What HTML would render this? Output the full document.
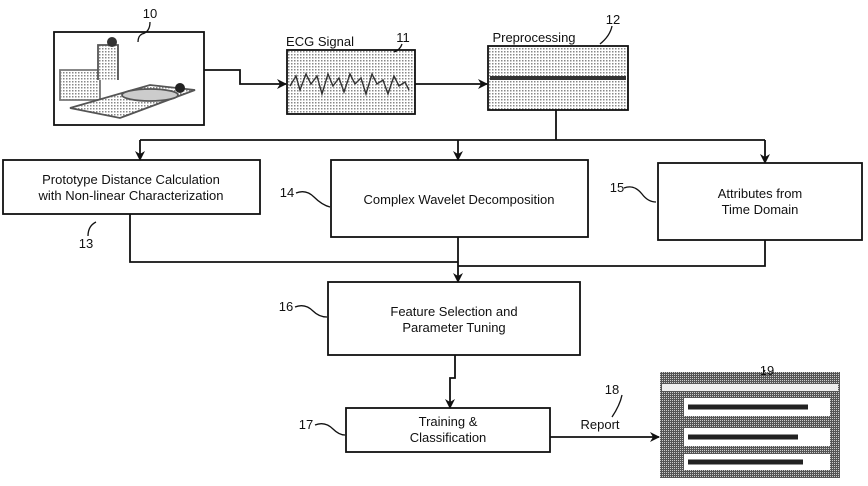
<!DOCTYPE html>
<html><head><meta charset="utf-8"><style>
html,body{margin:0;padding:0;background:#fff;width:868px;height:486px;overflow:hidden}
svg{display:block;font-family:"Liberation Sans",Arial,sans-serif}
</style></head><body>
<svg width="868" height="486" viewBox="0 0 868 486" xmlns="http://www.w3.org/2000/svg">
<defs>
<marker id="a" markerWidth="10" markerHeight="10" refX="9" refY="5" orient="auto" markerUnits="userSpaceOnUse"><path d="M0,0 L10,5 L0,10 L3,5 Z" fill="#111"/></marker>
<pattern id="dots" width="3" height="3" patternUnits="userSpaceOnUse"><rect width="3" height="3" fill="#fff"/><rect width="1.5" height="1.5" fill="#888"/></pattern>
<pattern id="dk" width="2" height="2" patternUnits="userSpaceOnUse"><rect width="2" height="2" fill="#555"/><rect width="1" height="1" fill="#ccc"/></pattern>
</defs>
<g stroke="#111" stroke-width="1.8" fill="none">
<rect x="54" y="32" width="150" height="93" fill="#fff"/>
<path d="M60,70 h40 v30 h-40z" fill="url(#dots)" stroke="#777"/>
<path d="M70,108 L150,85 L195,90 L120,118 Z" fill="url(#dots)" stroke="#555"/>
<path d="M98,80 v-35 h20 v35" fill="url(#dots)" stroke="#555"/>
<circle cx="112" cy="42" r="5" fill="#333" stroke="none"/>
<ellipse cx="150" cy="95" rx="28" ry="6" fill="#ccc" stroke="#555"/>
<circle cx="180" cy="88" r="5" fill="#222" stroke="none"/>
<rect x="287" y="50" width="128" height="64" fill="url(#dots)"/>
<path d="M290,86 l6,-10 l4,14 l6,-16 l5,10 l6,-8 l5,18 l6,-20 l5,12 l6,-8 l5,14 l6,-18 l5,10 l6,-6 l5,16 l6,-20 l5,10 l6,-4 l5,14 l6,-18 l5,10 l6,-4 l4,8" stroke="#333" stroke-width="1.4"/>
<rect x="488" y="46" width="140" height="64" fill="url(#dots)"/>
<path d="M490,78 h136" stroke="#333" stroke-width="4"/>
<path d="M204,70 H240 V84 H286" marker-end="url(#a)"/>
<path d="M415,84 H487" marker-end="url(#a)"/>
<path d="M556,110 V140"/>
<path d="M140,140 H765"/>
<path d="M140,140 V160" marker-end="url(#a)"/>
<path d="M458,140 V160" marker-end="url(#a)"/>
<path d="M765,140 V163" marker-end="url(#a)"/>
<rect x="3" y="160" width="257" height="54"/>
<rect x="331" y="160" width="257" height="77"/>
<rect x="658" y="163" width="204" height="77"/>
<path d="M130,214 V262 H458"/>
<path d="M765,240 V266 H458"/>
<path d="M458,237 V282" marker-end="url(#a)"/>
<rect x="328" y="282" width="252" height="73"/>
<path d="M455,355 V378 H450 V408" marker-end="url(#a)"/>
<rect x="346" y="408" width="204" height="44"/>
<path d="M550,437 H659" marker-end="url(#a)"/>
<path d="M150,22 q0,10 -8,12 q-4,2 -4,8" stroke-width="1.3"/>
<path d="M402,44 q-2,6 -8,8" stroke-width="1.3"/>
<path d="M612,26 q-2,10 -12,18" stroke-width="1.3"/>
<path d="M88,236 q0,-10 8,-14" stroke-width="1.3"/>
<path d="M296,193 q10,-4 18,4 q8,8 16,10" stroke-width="1.3"/>
<path d="M624,188 q10,-4 18,6 q6,8 14,8" stroke-width="1.3"/>
<path d="M295,307 q10,-4 18,4 q6,6 14,6" stroke-width="1.3"/>
<path d="M315,425 q10,-4 18,4 q6,6 12,6" stroke-width="1.3"/>
<path d="M622,395 q-2,10 -10,22" stroke-width="1.3"/>
<path d="M765,370 q-2,4 -6,8" stroke-width="1.3"/>
</g>
<rect x="660" y="372" width="180" height="106" fill="url(#dk)"/>
<rect x="662" y="384" width="176" height="7" fill="#eee"/>
<rect x="684" y="398" width="146" height="18" fill="#fff"/>
<rect x="684" y="428" width="146" height="18" fill="#fff"/>
<rect x="684" y="454" width="146" height="16" fill="#fff"/>
<path d="M688,407 h120 M688,437 h110 M688,462 h115" stroke="#222" stroke-width="5"/>
<g font-size="13" fill="#111" text-anchor="middle">
<text x="150" y="18">10</text>
<text x="403" y="42">11</text>
<text x="613" y="24">12</text>
<text x="86" y="248">13</text>
<text x="287" y="197">14</text>
<text x="617" y="192">15</text>
<text x="286" y="311">16</text>
<text x="306" y="429">17</text>
<text x="612" y="394">18</text>
<text x="767" y="375">19</text>
<text x="320" y="46">ECG Signal</text>
<text x="534" y="42">Preprocessing</text>
<text x="131" y="184">Prototype Distance Calculation</text>
<text x="131" y="200">with Non-linear Characterization</text>
<text x="459" y="204">Complex Wavelet Decomposition</text>
<text x="760" y="198">Attributes from</text>
<text x="760" y="214">Time Domain</text>
<text x="454" y="316">Feature Selection and</text>
<text x="454" y="332">Parameter Tuning</text>
<text x="448" y="426">Training &amp;</text>
<text x="448" y="442">Classification</text>
<text x="600" y="429">Report</text>
</g>
</svg>
</body></html>
